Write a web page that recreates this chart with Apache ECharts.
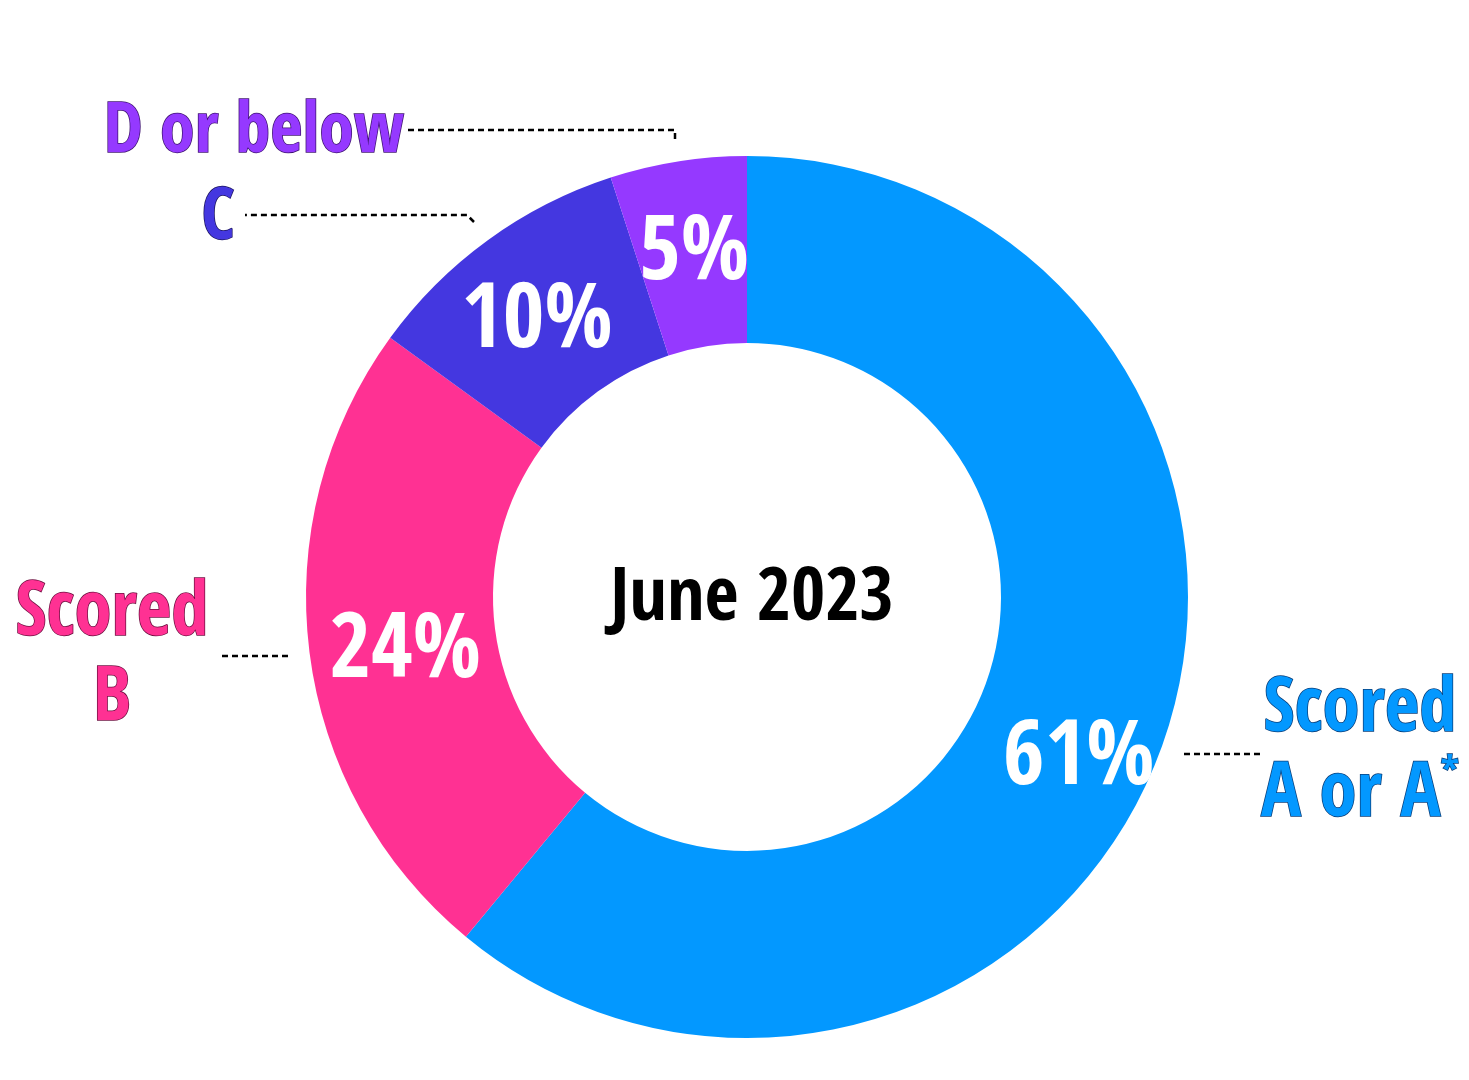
<!DOCTYPE html>
<html>
<head>
<meta charset="utf-8">
<script src="https://cdn.jsdelivr.net/npm/echarts@6/dist/echarts.min.js"></script>
<style>
html,body{margin:0;padding:0;background:#fff;}
#chart{width:1469px;height:1080px;}
</style>
</head>
<body>
<div id="chart"></div>
<script>
// ---- data ----
var categories = ['Scored A or A*', 'Scored B', 'C', 'D or below'];
var values = [61, 24, 10, 5];
var outerLabels = ['Scored\nA or A{sup|*}', 'Scored\nB', 'C', 'D or below'];
var centerTitle = 'June 2023';

var colors = ['#0398FF', '#FF3193', '#4437E0', '#9539FF'];
var outlineColors = ['#0b3f7a', '#6e1040', '#1c1560', '#3e1470'];
var FONT = '"Open Sans Condensed", "Roboto Condensed", Impact, sans-serif';

var chart = echarts.init(document.getElementById('chart'), null, {renderer: 'canvas'});

var data = categories.map(function (c, i) {
  return {name: c, value: values[i], itemStyle: {color: colors[i]}};
});

// outer label placement (label centre, leader line points, font size)
var outerPlace = [
  {x: 1360, y: 754, fs: 75, line: [[1184, 754], [1222, 754], [1260, 754]]},
  {x: 112, y: 658, fs: 75, line: [[288, 656], [255, 656], [222, 656]]},
  {x: 218, y: 220, fs: 72, line: [[474, 222], [467, 215], [245, 215]]},
  {x: 254, y: 134, fs: 70, line: [[675, 139], [675, 130], [405, 130]]}
];
var innerShift = [[2, 45], [6, 13], [-4, 10], [2, 5]];

var option = {
  backgroundColor: '#ffffff',
  animation: false,
  title: {
    text: centerTitle,
    left: 747,
    top: 559,
    textAlign: 'center',
    textStyle: {
      fontFamily: FONT, fontWeight: 800, fontSize: 74, color: '#000'
    }
  },
  series: [
    {
      type: 'pie',
      center: [747, 597],
      radius: [254, 441],
      startAngle: 90,
      clockwise: true,
      silent: true,
      data: data,
      label: {
        show: true,
        position: 'inside',
        formatter: '{c}%',
        color: '#fff',
        fontFamily: FONT,
        fontWeight: 800,
        fontSize: 90
      },
      labelLine: {show: false},
      labelLayout: function (p) {
        var s = innerShift[p.dataIndex];
        return {dx: s[0], dy: s[1]};
      }
    },
    {
      type: 'pie',
      center: [747, 597],
      radius: [254, 441],
      startAngle: 90,
      clockwise: true,
      silent: true,
      data: categories.map(function (c, i) {
        return {name: c, value: values[i], itemStyle: {color: 'rgba(0,0,0,0)'}};
      }),
      label: {
        show: true,
        position: 'outside',
        overflow: 'none',
        bleedMargin: 0,
        formatter: function (p) { return outerLabels[p.dataIndex]; },
        fontFamily: FONT,
        fontWeight: 800,
        fontSize: 72,
        lineHeight: 85,
        align: 'center'
      },
      labelLine: {
        show: true,
        lineStyle: {color: '#000', width: 2.5, type: [6, 4]}
      },
      labelLayout: function (p) {
        var o = outerPlace[p.dataIndex];
        return {x: o.x, y: o.y, align: 'center', verticalAlign: 'middle', labelLinePoints: o.line};
      }
    }
  ]
};

// per-item outer label colours and sizes
option.series[1].data.forEach(function (d, i) {
  var fs = outerPlace[i].fs;
  d.label = {color: colors[i], textBorderColor: outlineColors[i], textBorderWidth: 1.5,
    fontSize: fs,
    rich: {sup: {fontFamily: FONT, fontWeight: 800, fontSize: 40, verticalAlign: 'top', lineHeight: 85,
      color: colors[i], textBorderColor: outlineColors[i], textBorderWidth: 1.5}}};
});

chart.setOption(option);
</script>
</body>
</html>
